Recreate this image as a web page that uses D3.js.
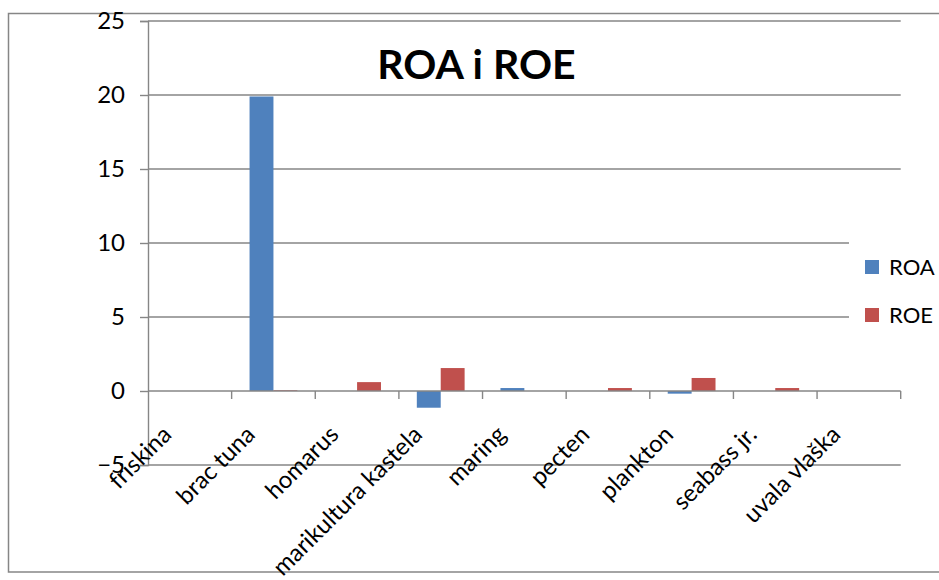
<!DOCTYPE html>
<html>
<head>
<meta charset="utf-8">
<script src="https://cdn.jsdelivr.net/npm/d3@7"></script>
<style>
  html, body { margin: 0; padding: 0; background: #fff; }
  svg { display: block; }
  text { font-family: Lato, "Open Sans", sans-serif; fill: #000; }
</style>
</head>
<body>
<svg id="chart" width="939" height="580"></svg>
<script>
const categories = ["friskina", "brac tuna", "homarus", "marikultura kastela", "maring", "pecten", "plankton", "seabass jr.", "uvala vlaška"];
const roaValues = [0, 19.9, 0, -1.13, 0.2, 0, -0.18, 0, 0];
const roeValues = [0, 0.05, 0.6, 1.55, 0, 0.2, 0.88, 0.2, 0];
const seriesNames = ["ROA", "ROE"];
const seriesColors = ["#4F81BD", "#C0504D"];
const yTicks = [-5, 0, 5, 10, 15, 20, 25];
const titleText = "ROA i ROE";

const svg = d3.select("#chart");
const gridColor = "#868686";

// outer chart border
svg.append("rect")
  .attr("x", 8.5).attr("y", 13.5)
  .attr("width", 940).attr("height", 558.5)
  .attr("fill", "#fff").attr("stroke", gridColor).attr("stroke-width", 1.5);

const x = d3.scaleBand().domain(categories).range([148, 900.7]).padding(0);
const y = d3.scaleLinear().domain([-5, 25]).range([465, 21]);

// gridlines
svg.append("g").selectAll("line")
  .data(yTicks.filter(t => t !== 0))
  .join("line")
  .attr("x1", 148).attr("x2", 900.7)
  .attr("y1", d => y(d)).attr("y2", d => y(d))
  .attr("stroke", gridColor).attr("stroke-width", 1.4);

// y axis
const yAxis = d3.axisLeft(y).tickValues(yTicks).tickSize(8).tickPadding(15).tickFormat(d3.format("d"));
const yg = svg.append("g").attr("transform", "translate(148,0)").call(yAxis);
yg.select(".domain").attr("stroke", gridColor).attr("stroke-width", 1.4);
yg.selectAll(".tick line").attr("stroke", gridColor).attr("stroke-width", 1.4);
yg.selectAll(".tick text").attr("font-size", 24).attr("font-family", "Lato").attr("fill", "#000");

// bars
const bandW = x.bandwidth();
const barW = bandW / 3.5;
const data = categories.map((c, i) => ({ c, vals: [roaValues[i], roeValues[i]] }));
seriesNames.forEach((s, si) => {
  svg.append("g").selectAll("rect")
    .data(data)
    .join("rect")
    .attr("x", d => x(d.c) + barW * 0.75 + si * barW)
    .attr("width", barW)
    .attr("y", d => y(Math.max(0, d.vals[si])))
    .attr("height", d => Math.abs(y(d.vals[si]) - y(0)))
    .attr("fill", seriesColors[si]);
});

// x axis at zero
const xg = svg.append("g");
xg.append("line")
  .attr("x1", 148).attr("x2", 900.7)
  .attr("y1", y(0)).attr("y2", y(0))
  .attr("stroke", gridColor).attr("stroke-width", 1.6);
const boundaries = categories.map(c => x(c)).concat([x.range()[1]]);
xg.selectAll("line.tk").data(boundaries.slice(1)).join("line")
  .attr("class", "tk")
  .attr("x1", d => d).attr("x2", d => d)
  .attr("y1", y(0)).attr("y2", y(0) + 8)
  .attr("stroke", gridColor).attr("stroke-width", 1.4);

// x labels rotated
xg.selectAll("text").data(categories).join("text")
  .attr("transform", d => `translate(${x(d) + bandW / 2 - 17},436) rotate(-45)`)
  .attr("text-anchor", "end")
  .attr("font-size", 24)
  .text(d => d);

// title
svg.append("text")
  .attr("x", 476.5).attr("y", 79)
  .attr("text-anchor", "middle")
  .attr("font-size", 41).attr("font-weight", "bold")
  .text(titleText);

// legend
const lg = svg.append("g");
lg.append("rect").attr("x", 849).attr("y", 236).attr("width", 89).attr("height", 100).attr("fill", "#fff");
seriesNames.forEach((s, i) => {
  const cy = 267 + i * 48;
  lg.append("rect").attr("x", 865).attr("y", cy - 7).attr("width", 14).attr("height", 14).attr("fill", seriesColors[i]);
  lg.append("text").attr("x", 889).attr("y", cy + 8).attr("font-size", 22).text(s);
});
</script>
</body>
</html>
